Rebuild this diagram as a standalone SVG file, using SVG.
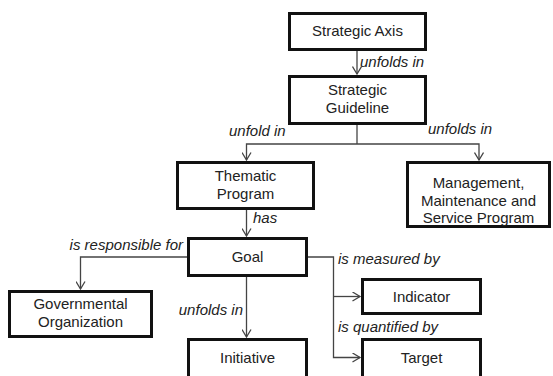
<svg xmlns="http://www.w3.org/2000/svg" width="553" height="376" viewBox="0 0 553 376">
  <defs>
    <marker id="arr" viewBox="0 0 10 10" markerWidth="10" markerHeight="10" refX="8.5" refY="5" orient="auto" markerUnits="userSpaceOnUse">
      <path d="M1,0.5 L8.5,5 L1,9.5" fill="none" stroke="#444" stroke-width="1.3"/>
    </marker>
  </defs>
  <style>
    .box { fill: #fff; stroke: #111; stroke-width: 3; }
    .t { font-family: "Liberation Sans", Arial, sans-serif; font-size: 15px; fill: #222; text-anchor: middle; }
    .lbl { font-family: "Liberation Sans", Arial, sans-serif; font-size: 15px; font-style: italic; fill: #222; }
    .ln { fill: none; stroke: #444; stroke-width: 1.3; }
  </style>
  <rect width="553" height="376" fill="#fff"/>

  <g id="connectors">
    <path class="ln" d="M357 51 V74" marker-end="url(#arr)"/>
    <path class="ln" d="M357 125 V144"/>
    <path class="ln" d="M357 144 H246.5 V160" marker-end="url(#arr)"/>
    <path class="ln" d="M357 144 H479 V160" marker-end="url(#arr)"/>
    <path class="ln" d="M246.5 210 V236" marker-end="url(#arr)"/>
    <path class="ln" d="M187 257 H80.5 V289" marker-end="url(#arr)"/>
    <path class="ln" d="M246.5 277 V337" marker-end="url(#arr)"/>
    <path class="ln" d="M308 257 H333.5 V357.5 H360" marker-end="url(#arr)"/>
    <path class="ln" d="M333.5 296.5 H360" marker-end="url(#arr)"/>
    <text class="lbl" x="360" y="67">unfolds in</text>
    <text class="lbl" x="229" y="136">unfold in</text>
    <text class="lbl" x="428" y="134">unfolds in</text>
    <text class="lbl" x="253" y="223">has</text>
    <text class="lbl" x="183" y="250" text-anchor="end">is responsible for</text>
    <text class="lbl" x="243" y="315" text-anchor="end">unfolds in</text>
    <text class="lbl" x="338" y="264">is measured by</text>
    <text class="lbl" x="338" y="332">is quantified by</text>
  </g>

  <g id="strategic-axis">
    <rect class="box" x="289.5" y="13.5" width="136" height="36"/>
    <text class="t" x="357.5" y="36">Strategic Axis</text>
  </g>
  <g id="strategic-guideline">
    <rect class="box" x="289.5" y="76.5" width="136" height="47"/>
    <text class="t" x="357.5" y="95">Strategic</text>
    <text class="t" x="357.5" y="113">Guideline</text>
  </g>
  <g id="thematic-program">
    <rect class="box" x="177.5" y="162.5" width="136" height="46"/>
    <text class="t" x="245.5" y="181">Thematic</text>
    <text class="t" x="245.5" y="199">Program</text>
  </g>
  <g id="mms-program">
    <rect class="box" x="407.5" y="162.5" width="142" height="64"/>
    <text class="t" x="478.5" y="188">Management,</text>
    <text class="t" x="478.5" y="206">Maintenance and</text>
    <text class="t" x="478.5" y="223">Service Program</text>
  </g>
  <g id="goal">
    <rect class="box" x="188.5" y="238.5" width="118" height="37"/>
    <text class="t" x="247.5" y="262">Goal</text>
  </g>
  <g id="governmental-organization">
    <rect class="box" x="9.5" y="291.5" width="142" height="45"/>
    <text class="t" x="80.5" y="309">Governmental</text>
    <text class="t" x="80.5" y="327">Organization</text>
  </g>
  <g id="indicator">
    <rect class="box" x="362.5" y="279.5" width="118" height="34"/>
    <text class="t" x="421.5" y="302">Indicator</text>
  </g>
  <g id="initiative">
    <rect class="box" x="188.5" y="339.5" width="118" height="38"/>
    <text class="t" x="247.5" y="363">Initiative</text>
  </g>
  <g id="target">
    <rect class="box" x="362.5" y="339.5" width="118" height="38"/>
    <text class="t" x="421.5" y="363">Target</text>
  </g>
</svg>
